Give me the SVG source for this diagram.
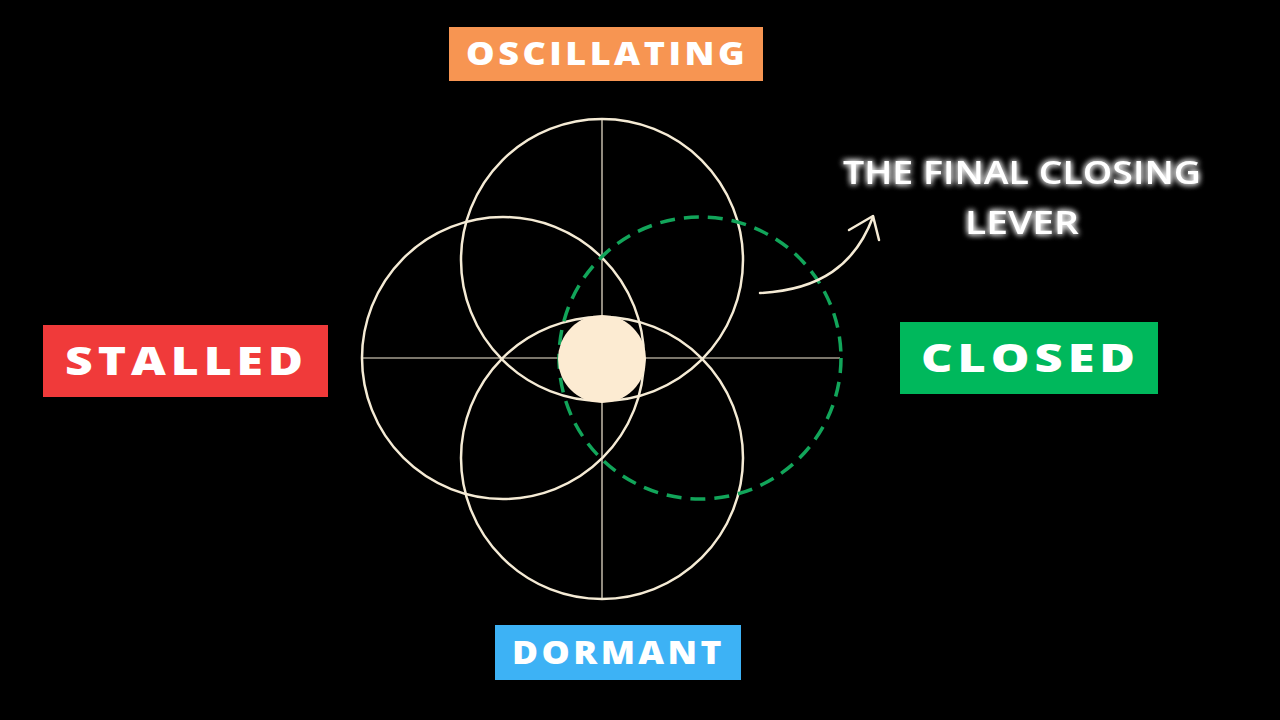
<svg xmlns="http://www.w3.org/2000/svg" width="1280" height="720" viewBox="0 0 1280 720">
<defs>
<style>
.c{fill:none;stroke:#F5EBD5;stroke-width:2.5}
.ax{stroke:#F5EBD5;stroke-width:1.2}
.lbl{font-family:"Open Sans","DejaVu Sans",sans-serif;font-weight:800;fill:#fff}
.glow{font-family:"Open Sans","DejaVu Sans",sans-serif;font-weight:600;fill:#fff;font-size:33px}
</style>
<filter id="g" x="-20%" y="-50%" width="140%" height="200%">
<feGaussianBlur in="SourceGraphic" stdDeviation="3" result="b"/>
<feMerge><feMergeNode in="b"/><feMergeNode in="b"/><feMergeNode in="SourceGraphic"/></feMerge>
</filter>
</defs>
<rect width="1280" height="720" fill="#000"/>
<g id="diagram">
<line class="ax" x1="602" y1="120" x2="602" y2="598"/>
<line class="ax" x1="363" y1="358" x2="840" y2="358"/>
<circle class="c" cx="602" cy="260" r="141"/>
<circle class="c" cx="602" cy="458" r="141"/>
<circle class="c" cx="503" cy="358" r="141"/>
<circle cx="700" cy="358" r="141" fill="none" stroke="#12A55A" stroke-width="3.5" stroke-dasharray="15 9"/>
<circle cx="602" cy="359" r="44" fill="#FCEBD2"/>
</g>
<g id="connectors">
<path d="M760,293 C820,290 855,265 873,217" fill="none" stroke="#F5EBD5" stroke-width="2.5" stroke-linecap="round"/>
<path d="M849,230 L873,216 L879,240" fill="none" stroke="#F5EBD5" stroke-width="2.5" stroke-linecap="round" stroke-linejoin="round"/>
</g>
<g id="oscillating"><rect x="449" y="27" width="314" height="54" fill="#F79552"/><text class="lbl" x="466" y="65" font-size="31" letter-spacing="3" textLength="282" lengthAdjust="spacingAndGlyphs">OSCILLATING</text></g>
<g id="stalled"><rect x="43" y="325" width="285" height="72" fill="#F03A3A"/><text class="lbl" x="65" y="375" font-size="39" letter-spacing="4" textLength="243" lengthAdjust="spacingAndGlyphs">STALLED</text></g>
<g id="closed"><rect x="900" y="322" width="258" height="72" fill="#00B85C"/><text class="lbl" x="921" y="372" font-size="39" letter-spacing="4" textLength="219" lengthAdjust="spacingAndGlyphs">CLOSED</text></g>
<g id="dormant"><rect x="495" y="625" width="246" height="55" fill="#3DB2F5"/><text class="lbl" x="512" y="664" font-size="31" letter-spacing="3" textLength="213" lengthAdjust="spacingAndGlyphs">DORMANT</text></g>
<g id="note" filter="url(#g)">
<text class="glow" x="843" y="184" textLength="358" lengthAdjust="spacingAndGlyphs">THE FINAL CLOSING</text>
<text class="glow" x="965" y="234" textLength="114" lengthAdjust="spacingAndGlyphs">LEVER</text>
</g>
</svg>
